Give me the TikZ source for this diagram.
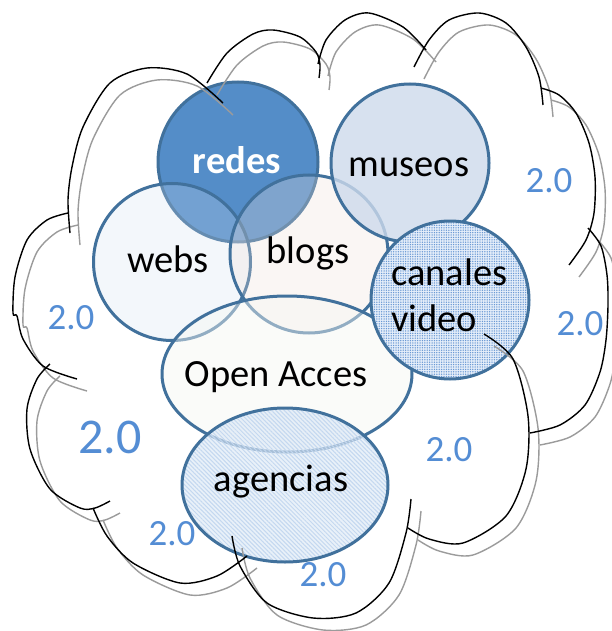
\documentclass[tikz,border=0pt]{standalone}
\usepackage{fontspec}
\setmainfont{Carlito}
\usetikzlibrary{shapes.geometric,patterns.meta}
\definecolor{edge}{RGB}{65,113,156}
\definecolor{redesfill}{RGB}{84,141,200}
\definecolor{websfill}{RGB}{210,224,240}
\definecolor{blogsfill}{RGB}{240,225,218}
\definecolor{museosfill}{RGB}{205,218,236}
\definecolor{oafill}{RGB}{246,248,243}
\definecolor{agfill}{RGB}{222,234,247}
\definecolor{agline}{RGB}{196,216,240}
\definecolor{canfill}{RGB}{228,237,249}
\definecolor{candot}{RGB}{105,152,212}
\definecolor{twoblue}{RGB}{84,141,212}
\definecolor{shadowgray}{RGB}{155,155,155}
\newcommand{\cloudlines}[1]{%
  \draw[#1] plot[smooth] coordinates {(223,103) (187,74) (147,68) (110,83) (83,127) (72,167) (68,200) (70,233)};
  \draw[#1] plot[smooth] coordinates {(207,83) (227,53) (253,34) (273,30) (300,37) (316,52) (320,65) (319,78)};
  \draw[#1] plot[smooth] coordinates {(318,64) (326,40) (345,20) (369,13) (403,27) (426,50)};
  \draw[#1] plot[smooth] coordinates {(414,67) (429,40) (449,20) (479,13) (506,23) (526,47) (539,77) (543,105)};
  \draw[#1] plot[smooth] coordinates {(541,88) (559,95) (576,113) (589,143) (595,177) (594,213) (586,240) (569,265)};
  \draw[#1] plot[smooth] coordinates {(588,228) (601,246) (607,275) (608,305) (606,340) (600,372) (585,405) (560,425) (530,433)};
  \draw[#1] plot[smooth] coordinates {(484,334) (513,359) (528,416) (526,469) (506,516) (463,543) (429,539) (408,528)};
  \draw[#1] plot[smooth] coordinates {(411,499) (406,533) (389,583) (356,613) (313,618) (267,603) (240,566) (232,536)};
  \draw[#1] plot[smooth] coordinates {(93,508) (107,536) (133,563) (180,583) (217,576) (247,556)};
  \draw[#1] plot[smooth] coordinates {(110,501) (95,508) (80,508) (50,489) (30,449) (27,409) (37,379) (50,364)};
  \draw[#1] plot[smooth] coordinates {(68,213) (47,220) (27,240) (15,277) (13,313) (17,316) (23,339) (43,366) (77,379)};
}
\begin{document}
\begin{tikzpicture}[x=1pt,y=-1pt,
  disc/.style={circle, draw=edge, line width=3pt, inner sep=0pt, minimum size=158pt},
  oval/.style={ellipse, draw=edge, line width=3pt, inner sep=0pt},
  lbl/.style={inner sep=0pt, anchor=base, font=\fontsize{38.5}{46}\selectfont, text=black},
  two/.style={inner sep=0pt, anchor=base, font=\fontsize{37}{44}\selectfont, text=twoblue},
  bigtwo/.style={inner sep=0pt, anchor=base, font=\fontsize{50}{60}\selectfont, text=twoblue},
  cloudblack/.style={draw=black, line width=1.4pt},
  cloudshadow/.style={draw=shadowgray, line width=1.4pt}]
\useasboundingbox (0,0) rectangle (612,631);
\clip (0,0) rectangle (612,631);
\fill[white] (0,0) rectangle (612,631);
% shapes
\node[disc, fill=redesfill, minimum size=160pt] (redes) at (238,162) {};
\node[disc, fill=websfill, fill opacity=0.25, minimum size=157pt] (webs) at (172,262) {};
\node[disc, fill=blogsfill, fill opacity=0.28] (blogs) at (309,254) {};
\node[disc, fill=museosfill, fill opacity=0.8] (museos) at (410,163) {};
\node[oval, fill=oafill, fill opacity=0.45, minimum width=250pt, minimum height=156pt] (oa) at (287,374) {};
\node[oval, preaction={fill=agfill, fill opacity=0.65}, pattern={Lines[angle=-45,distance=3pt,line width=1pt]}, pattern color=agline, minimum width=206pt, minimum height=154pt] (agencias) at (285,485) {};
\node[disc, preaction={fill=canfill}, pattern={Dots[distance=2.4pt,radius=0.75pt]}, pattern color=candot] (canales) at (450,300) {};
% cloud
\begin{scope}[shift={(10,12)}]
\cloudlines{cloudshadow}
\end{scope}
\cloudlines{cloudblack}
% labels
\node[lbl, text=white, font=\fontsize{38.5}{46}\selectfont\bfseries] (tredes) at (237,173) {redes};
\node[lbl] (tmuseos) at (409,177) {museos};
\node[lbl] (twebs) at (168,272) {webs};
\node[lbl] (tblogs) at (308,263) {blogs};
\node[lbl, anchor=base west] (tcanales) at (391,285) {canales};
\node[lbl, anchor=base west] (tvideo) at (391,331) {video};
\node[lbl] (toa) at (276,386) {Open Acces};
\node[lbl] (tag) at (281,491) {agencias};
% 2.0 labels
\node[two] (n1) at (549,193) {2.0};
\node[two] (n2) at (71,329) {2.0};
\node[two] (n3) at (580,335) {2.0};
\node[bigtwo] (n4) at (110,453) {2.0};
\node[two] (n5) at (449,461) {2.0};
\node[two] (n6) at (172,545) {2.0};
\node[two] (n7) at (323,586) {2.0};
\end{tikzpicture}
\end{document}
